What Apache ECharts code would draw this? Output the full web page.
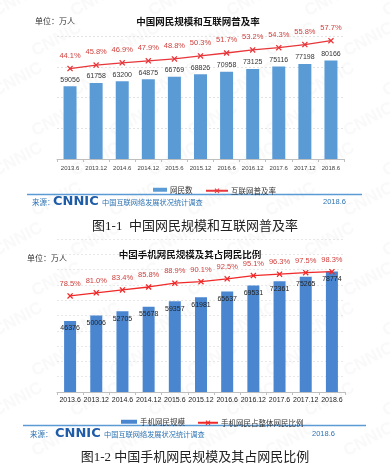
<!DOCTYPE html>
<html><head><meta charset="utf-8">
<script src="https://cdn.jsdelivr.net/npm/echarts@6/dist/echarts.min.js"></script>
<style>html,body{margin:0;padding:0;background:#fff}#c{width:390px;height:473px}</style>
</head><body><div id="c"></div>
<script>
const categories = ['2013.6','2013.12','2014.6','2014.12','2015.6','2015.12','2016.6','2016.12','2017.6','2017.12','2018.6'];
const netizens = [59056,61758,63200,64875,66769,68826,70958,73125,75116,77198,80166];
const penetration = [44.1,45.8,46.9,47.9,48.8,50.3,51.7,53.2,54.3,55.8,57.7];
const mobileUsers = [46376,50006,52705,55678,59357,61981,65637,69531,72361,75265,78774];
const mobileShare = [78.5,81.0,83.4,85.8,88.9,90.1,92.5,95.1,96.3,97.5,98.3];

const CJK = '"Noto Sans CJK SC", "Liberation Sans", sans-serif';
const NUM = '"Liberation Sans", Arial, sans-serif';
const XPATH = 'path://M0,1.5L1.5,0L5,3.5L8.5,0L10,1.5L6.5,5L10,8.5L8.5,10L5,6.5L1.5,10L0,8.5L3.5,5Z';
const pct = p => p.value.toFixed(1) + '%';

const chart = echarts.init(document.getElementById('c'), null, {renderer: 'canvas'});

// faint watermarks
const marks = [];
for (let r = 0; r < 12; r++) {
  for (let c = 0; c < 6; c++) {
    marks.push({
      type: 'text', z: -10, silent: true,
      x: c * 78 + (r % 2) * 39 - 10, y: r * 40 + 5, rotation: 0.5,
      style: {text: 'CNNIC', fill: 'rgba(195,195,195,0.10)', font: 'bold 17px ' + NUM}
    });
  }
}

function txt(x, y, text, font, fill, align) {
  return {type: 'text', x: x, y: y, style: {text: text, font: font, fill: fill, textAlign: align || 'left', textVerticalAlign: 'middle'}};
}

const gfx = marks.concat([
  // chart 1
  txt(35, 21, '单位：万人', '8px ' + CJK, '#333'),
  txt(198, 21, '中国网民规模和互联网普及率', 'bold 9.5px ' + CJK, '#111', 'center'),
  {type: 'line', shape: {x1: 27, y1: 194.5, x2: 362, y2: 194.5}, style: {stroke: '#5B9BD5', lineWidth: 1.5}},
  txt(32, 202, '来源：', '7.5px ' + CJK, '#2E74B5'),
  txt(53, 202, 'CNNIC', 'bold 13px "DejaVu Sans", sans-serif', '#1F5CA8'),
  txt(102, 202, '中国互联网络发展状况统计调查', '7.2px ' + CJK, '#2E74B5'),
  txt(323, 202, '2018.6', '7.5px ' + NUM, '#2E74B5'),
  txt(195, 227, '图1-1  中国网民规模和互联网普及率', '13px "Liberation Serif", ' + CJK, '#222', 'center'),
  // chart 2
  txt(27, 258, '单位：万人', '8px ' + CJK, '#333'),
  txt(190, 254, '中国手机网民规模及其占网民比例', 'bold 9.5px ' + CJK, '#111', 'center'),
  {type: 'line', shape: {x1: 23, y1: 425.5, x2: 366, y2: 425.5}, style: {stroke: '#5B9BD5', lineWidth: 1.5}},
  txt(30, 434, '来源：', '7.5px ' + CJK, '#2E74B5'),
  txt(55, 434, 'CNNIC', 'bold 13px "DejaVu Sans", sans-serif', '#1F5CA8'),
  txt(104, 434, '中国互联网络发展状况统计调查', '7.2px ' + CJK, '#2E74B5'),
  txt(312, 434, '2018.6', '7.5px ' + NUM, '#2E74B5'),
  txt(195, 458, '图1-2 中国手机网民规模及其占网民比例', '13px "Liberation Serif", ' + CJK, '#222', 'center')
]);

function legend(left, top, name, w, h, icon) {
  return {left: left, top: top, itemWidth: w, itemHeight: h, itemGap: 0,
    data: [icon ? {name: name, icon: icon} : {name: name}],
    textStyle: {fontFamily: CJK, fontSize: 7.5, color: '#333', padding: [0, 0, 0, -2]}};
}

const option = {
  animation: false,
  backgroundColor: '#fff',
  graphic: gfx,
  legend: [
    legend(148, 181, '网民数', 14, 4, 'rect'),
    legend(200, 182, '互联网普及率', 22, 6),
    legend(116, 413, '手机网民规模', 16, 4, 'rect'),
    legend(192, 414, '手机网民占整体网民比例', 20, 6)
  ],
  grid: [
    {left: 57, right: 46, top: 36, height: 123},
    {left: 57, right: 45, top: 239, height: 153}
  ],
  xAxis: [
    {type: 'category', gridIndex: 0, data: categories,
      axisLine: {lineStyle: {color: '#BFBFBF'}}, axisTick: {show: true, length: 3, lineStyle: {color: '#BFBFBF'}},
      axisLabel: {interval: 0, fontFamily: NUM, fontSize: 6, color: '#404040', margin: 6}},
    {type: 'category', gridIndex: 1, data: categories,
      axisLine: {lineStyle: {color: '#BFBFBF'}}, axisTick: {show: true, length: 3, lineStyle: {color: '#BFBFBF'}},
      axisLabel: {interval: 0, fontFamily: NUM, fontSize: 7, color: '#222', margin: 5}}
  ],
  yAxis: [
    {type: 'value', gridIndex: 0, min: 0, max: 100000, interval: 25000,
      axisLabel: {show: false}, axisLine: {show: false}, axisTick: {show: false},
      splitLine: {lineStyle: {color: '#E3E3E3', type: [2, 2]}}},
    {type: 'value', gridIndex: 0, min: 0, max: 60, show: false, splitLine: {show: false}},
    {type: 'value', gridIndex: 1, min: 0, max: 100000, interval: 10000,
      axisLabel: {show: false}, axisLine: {show: false}, axisTick: {show: false},
      splitLine: {lineStyle: {color: '#E8E8E8', type: [2, 2]}}},
    {type: 'value', gridIndex: 1, min: 0, max: 125, show: false, splitLine: {show: false}}
  ],
  series: [
    {name: '网民数', type: 'bar', xAxisIndex: 0, yAxisIndex: 0, data: netizens, barWidth: 13,
      itemStyle: {color: '#5B9BD5'},
      label: {show: true, position: 'top', distance: 3, fontFamily: NUM, fontSize: 7, color: '#333'}},
    {name: '互联网普及率', type: 'line', xAxisIndex: 0, yAxisIndex: 1, data: penetration,
      symbol: XPATH, symbolSize: 6, lineStyle: {color: '#E8363A', width: 1.3}, itemStyle: {color: '#E8363A'},
      label: {show: true, position: 'top', distance: 6, formatter: pct, fontFamily: NUM, fontSize: 7.5, color: '#D0413E'}},
    {name: '手机网民规模', type: 'bar', xAxisIndex: 1, yAxisIndex: 2, data: mobileUsers, barWidth: 12,
      itemStyle: {color: '#4A86D0'},
      label: {show: true, position: 'insideTop', distance: 4, fontFamily: NUM, fontSize: 7, color: '#222'}},
    {name: '手机网民占整体网民比例', type: 'line', xAxisIndex: 1, yAxisIndex: 3, data: mobileShare,
      symbol: XPATH, symbolSize: 6, lineStyle: {color: '#F02828', width: 1.3}, itemStyle: {color: '#F02828'},
      label: {show: true, position: 'top', distance: 5, formatter: pct, fontFamily: NUM, fontSize: 7.5, color: '#D0413E'}}
  ]
};
chart.setOption(option);
</script></body></html>
